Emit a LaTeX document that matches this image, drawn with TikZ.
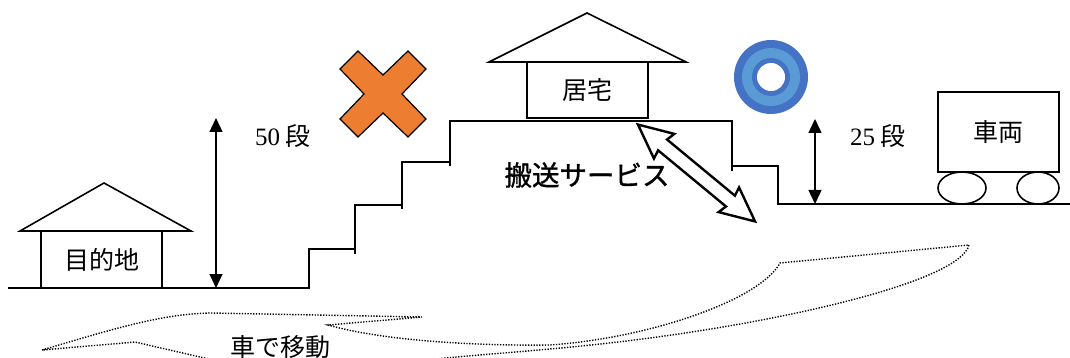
\documentclass[tikz,border=0pt]{standalone}
\usepackage{fontspec}
\setmainfont{Liberation Serif}
\newfontfamily\jp{Noto Sans CJK JP}
\usepackage{tikz}
\usetikzlibrary{arrows.meta}

\definecolor{crossorange}{HTML}{ED7D31}
\definecolor{ringdark}{HTML}{4472C4}
\definecolor{ringlight}{HTML}{5B9BD5}

\begin{document}
\begin{tikzpicture}[x=1pt, y=-1pt, line width=1.6pt, font=\fontsize{25}{25}\selectfont\jp,
  box/.style={draw, fill=white, inner sep=0pt, line width=1.6pt},
  dimline/.style={{Triangle[length=14pt,width=13pt]}-{Triangle[length=14pt,width=13pt]}, line width=1.4pt},
  route/.style={line width=1.4pt, dash pattern=on 1.3pt off 1.5pt}]
\useasboundingbox (0,0) rectangle (1070,358);
\clip (0,0) rectangle (1070,358);

% ground and stairs
\draw (8,288) -- (309,288) -- (309,249) -- (355,249);
\draw (355,254) -- (355,205) -- (402,205);
\draw (402,209) -- (402,162) -- (450,162);
\draw (450,166) -- (450,121) -- (732,121) -- (732,171);
\draw (732,166) -- (778,166) -- (778,204) -- (1070,204);

% houses
\draw (20,231) -- (104,183) -- (191,231) -- cycle;
\node[box, minimum width=121pt, minimum height=57pt] (dest) at (101.5,259.5) {目的地};
\draw (489,62) -- (587,13) -- (686,62) -- cycle;
\node[box, minimum width=121pt, minimum height=56pt] (home) at (587.5,90) {居宅};

% vehicle
\node[box, minimum width=121pt, minimum height=80pt] (car) at (998.5,132) {車両};
\draw (962,188) ellipse (24 and 16);
\draw (1038,188) ellipse (21 and 16);

% heights
\coordinate (h50top) at (216,118);
\coordinate (h50bot) at (216,288);
\draw[dimline] (h50top) -- (h50bot);
\node (fifty) at (283,136) {{\rmfamily 50} 段};
\coordinate (h25top) at (815,119);
\coordinate (h25bot) at (815,204);
\draw[dimline] (h25top) -- (h25bot);
\node (twentyfive) at (878,136) {{\rmfamily 25} 段};

% marks
\filldraw[fill=crossorange, draw=black, line width=1.2pt] (383,75) -- (408,51) -- (426,69) -- (402,94) -- (426,119) -- (408,137)
  -- (383,113) -- (358,137) -- (340,119) -- (364,94) -- (340,69) -- (358,51) -- cycle;
\fill[ringdark] (771,77) circle (37);
\fill[ringlight] (771,77) circle (29);
\fill[ringdark] (771,77) circle (19);
\fill[white] (771,77) circle (14);

% carry service
\begin{scope}[shift={(696.5,173)}, rotate=-39.6]
\filldraw[fill=white, draw=black, line width=2.4pt] (-76,0) -- (-42,16) -- (-44,7) -- (44,7) -- (42,16) -- (76,0)
  -- (42,-16) -- (44,-7) -- (-44,-7) -- (-42,-16) -- cycle;
\end{scope}
\node (carry) at (587,175) {\fontsize{27.5}{27.5}\selectfont\addfontfeature{FakeBold=1.2}搬送サービス};

% by car
\draw[route] (42,350) .. controls (110,330) and (160,314) .. (210,313) -- (422,317) -- (328,325)
  .. controls (380,340) and (470,346) .. (550,345) .. controls (650,338) and (760,300) .. (780,263) -- (969,245)
  .. controls (960,280) and (800,318) .. (650,338) .. controls (560,350) and (480,354) .. (437,359)
  -- (330,385) -- (200,357) -- (135,342) -- cycle;
\node (drive) at (280,347) {車で移動};
\end{tikzpicture}
\end{document}
